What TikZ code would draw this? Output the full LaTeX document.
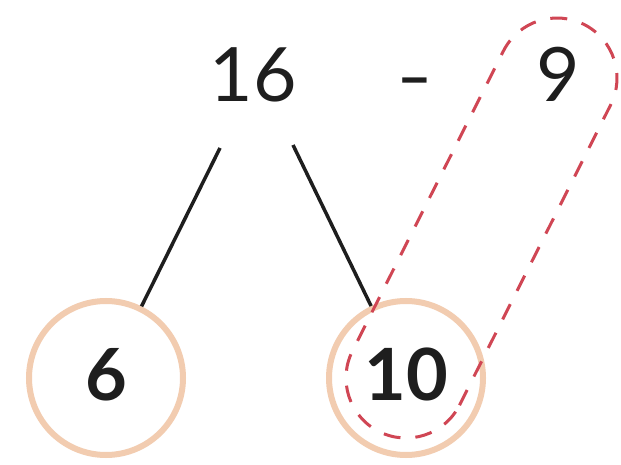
\documentclass[tikz,border=0pt]{standalone}
\usepackage{fontspec}
\setmainfont{Lato}
\usetikzlibrary{calc}
\definecolor{peach}{RGB}{242,204,176}
\definecolor{dashred}{RGB}{208,70,84}
\definecolor{ink}{RGB}{30,30,30}
\begin{document}
\begin{tikzpicture}[x=1pt,y=1pt,
  numtop/.style={text=ink,font=\fontsize{75}{75}\selectfont,inner sep=0pt},
  numbox/.style={circle,draw=peach,line width=6pt,minimum size=154pt,inner sep=0pt},
  numbold/.style={text=ink,font=\fontsize{72}{72}\selectfont\bfseries,inner sep=0pt},
  branch/.style={draw=ink,line width=3.5pt},
  loop/.style={draw=dashred,line width=3pt,dash pattern=on 17pt off 15pt}]
\fill[white] (0,0) rectangle (621,464);
\useasboundingbox (0,0) rectangle (621,464);
\node[numtop,anchor=base] (sixteen) at (253,362) {16};
\node[text=ink,inner sep=0pt,font=\fontsize{60}{60}\selectfont\bfseries] (minus) at (415,376) {–};
\node[numtop,anchor=base] (nine) at (558,362) {9};
\node[numbox] (six) at (106,86) {};
\node[numbox] (ten) at (406,86) {};
\coordinate (l1) at (220,316);
\coordinate (r1) at (293,319);
\coordinate (c2) at (557,386);
\draw[branch] (l1) -- (six);
\draw[branch] (r1) -- (ten);
\draw[loop] ($(ten.center)+(-26.9:60)$) -- ($(c2)+(-26.9:60)$)
  arc[start angle=-26.9,end angle=153.1,radius=60pt]
  -- ($(ten.center)+(153.1:60)$)
  arc[start angle=153.1,end angle=333.1,radius=60pt] -- cycle;
\node[numbold,anchor=base] (sixlabel) at (106,64) {6};
\node[numbold,anchor=base] (tenlabel) at (406,64) {10};
\end{tikzpicture}
\end{document}
